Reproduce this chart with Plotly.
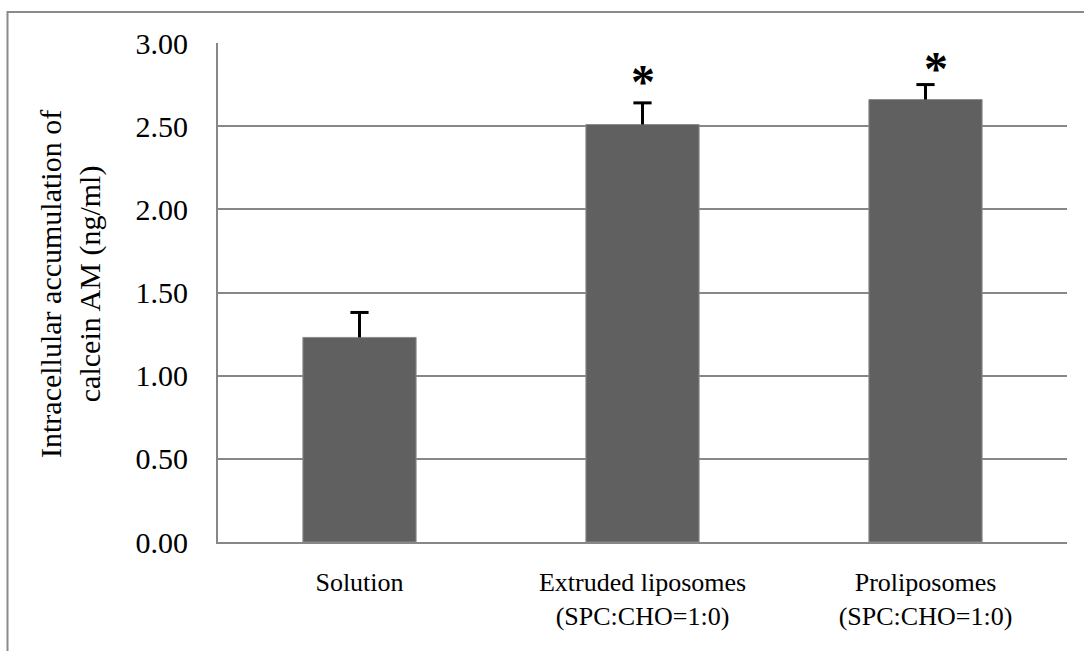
import plotly.graph_objects as go

# Intracellular calcein AM accumulation by formulation
categories = ["Solution", "Extruded liposomes<br>(SPC:CHO=1:0)", "Proliposomes<br>(SPC:CHO=1:0)"]
means = [1.23, 2.51, 2.66]
sd_upper = [0.15, 0.13, 0.09]
significant = [False, True, True]
y_ticks = [0.0, 0.5, 1.0, 1.5, 2.0, 2.5, 3.0]
y_tick_labels = ["0.00", "0.50", "1.00", "1.50", "2.00", "2.50", "3.00"]

SERIF = "Liberation Serif, Times New Roman, serif"
GRID = "#878787"

fig = go.Figure()
# Bars with the upward error stem (no caps)
fig.add_trace(go.Bar(
    x=categories,
    y=means,
    marker=dict(color="#606060", line=dict(color="#8c8c8c", width=1)),
    error_y=dict(type="data", symmetric=False, array=sd_upper,
                 arrayminus=[0] * len(means), color="black",
                 thickness=3, width=0),
    showlegend=False,
))
# Upper caps of the error bars
fig.add_trace(go.Scatter(
    x=categories,
    y=[m + e for m, e in zip(means, sd_upper)],
    mode="markers",
    marker=dict(symbol="line-ew", size=13, line=dict(color="black", width=3)),
    showlegend=False, hoverinfo="skip",
))

# Significance markers above the error bars
star_offsets = {1: (0, -7), 2: (10, -12)}
for i, (cat, m, e, sig) in enumerate(zip(categories, means, sd_upper, significant)):
    if sig:
        dx, dy = star_offsets.get(i, (0, 0))
        fig.add_annotation(x=cat, y=m + e, text="<b>*</b>", showarrow=False,
                           yanchor="bottom", xshift=dx, yshift=dy,
                           font=dict(family=SERIF, size=48, color="black"))

# Y-axis title
fig.add_annotation(xref="paper", yref="paper", x=(70 - 218) / 849, y=(542 - 284) / 499,
                   text="Intracellular accumulation of<br>calcein AM (ng/ml)",
                   textangle=-90, showarrow=False, xanchor="center", yanchor="middle",
                   font=dict(family=SERIF, size=30, color="black"))

# Outer frame (top and left edges)
def px_x(px):
    return (px - 218) / 849

def px_y(py):
    return (542 - py) / 499

fig.add_shape(type="path", xref="paper", yref="paper",
              path=f"M {px_x(1100)} {px_y(12)} L {px_x(7.5)} {px_y(12)} L {px_x(7.5)} {px_y(670)}",
              line=dict(color="#8a8a8a", width=2))

fig.update_layout(
    width=1084, height=651,
    margin=dict(l=218, r=17, t=43, b=109),
    paper_bgcolor="white", plot_bgcolor="white",
    bargap=0.6,
    font=dict(family=SERIF, color="black"),
)
fig.update_xaxes(showline=True, linecolor=GRID, linewidth=2, showgrid=False,
                 ticks="", tickfont=dict(family=SERIF, size=26, color="black"),
                 ticklabelstandoff=16)
fig.update_yaxes(range=[0, 3], tickvals=y_ticks, ticktext=y_tick_labels,
                 showline=True, linecolor=GRID, linewidth=2,
                 showgrid=True, gridcolor=GRID, gridwidth=1.5, zeroline=False,
                 ticks="", tickfont=dict(family=SERIF, size=30, color="black"),
                 ticklabelstandoff=22)

fig.write_html("out.html")
